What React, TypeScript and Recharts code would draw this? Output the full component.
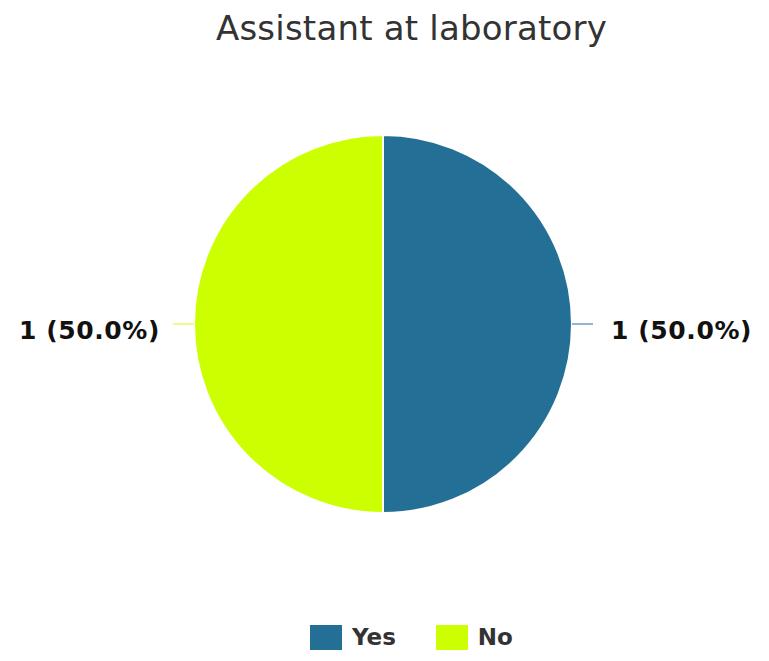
import { Pie, PieChart, Cell } from 'recharts';

const categories = ['Yes', 'No'];
const counts = [1, 1];
const colors = ['#236f96', '#ccff00'];
const lineColors = ['#8fb8cc', '#e6ff88'];

const data = categories.map((name, i) => ({ name, value: counts[i] }));
const total = counts.reduce((a, b) => a + b, 0);

const RAD = Math.PI / 180;

// label line + "n (pct%)" text, placed beside the slice
function renderLabel(props: any) {
	const { cx, cy, midAngle, outerRadius, value, index } = props;
	const cos = Math.cos(-midAngle * RAD);
	const sin = Math.sin(-midAngle * RAD);
	const x1 = cx + outerRadius * cos;
	const y1 = cy + outerRadius * sin;
	const x2 = cx + (outerRadius + 21) * cos;
	const y2 = cy + (outerRadius + 21) * sin;
	const right = cos >= 0;
	const tx = cx + (outerRadius + (right ? 39 : 34)) * cos;
	const pct = ((value / total) * 100).toFixed(1);
	return (
		<g key={`lbl-${index}`}>
			<line x1={x1} y1={y1} x2={x2} y2={y2} stroke={lineColors[index]} strokeWidth={2} />
			<text
				x={tx}
				y={y2 + 15}
				textAnchor={right ? 'start' : 'end'}
				fill="#111"
				fontFamily="DejaVu Sans"
				fontWeight="bold"
				fontSize={25}
				letterSpacing={0.6}
			>
				{`${value} (${pct}%)`}
			</text>
		</g>
	);
}

export default function App() {
	return (
		<div style={{ position: 'absolute', left: 0, top: 0, width: 769, height: 661, background: '#fff', fontFamily: 'DejaVu Sans' }}>
			<div style={{ position: 'absolute', left: 0, width: 823, top: 8, textAlign: 'center', fontSize: 34, color: '#333', letterSpacing: 0.2 }}>
				Assistant at laboratory
			</div>
			<PieChart width={769} height={661} margin={{ top: 0, right: 0, bottom: 0, left: 0 }}>
				<Pie
					data={data}
					dataKey="value"
					nameKey="name"
					cx={383}
					cy={324}
					outerRadius={189}
					startAngle={90}
					endAngle={-270}
					stroke="#ffffff"
					strokeWidth={2}
					label={renderLabel}
					labelLine={false}
					isAnimationActive={false}
				>
					{data.map((d, i) => (
						<Cell key={d.name} fill={colors[i]} />
					))}
				</Pie>
			</PieChart>
			<div style={{ position: 'absolute', left: 310, top: 624, display: 'flex', alignItems: 'center', fontWeight: 'bold', fontSize: 23, color: '#333' }}>
				{categories.map((c, i) => (
					<div key={c} style={{ display: 'flex', alignItems: 'center', marginRight: 40 }}>
						<div style={{ width: 32, height: 25, background: colors[i], marginRight: 10 }} />
						<span>{c}</span>
					</div>
				))}
			</div>
		</div>
	);
}
